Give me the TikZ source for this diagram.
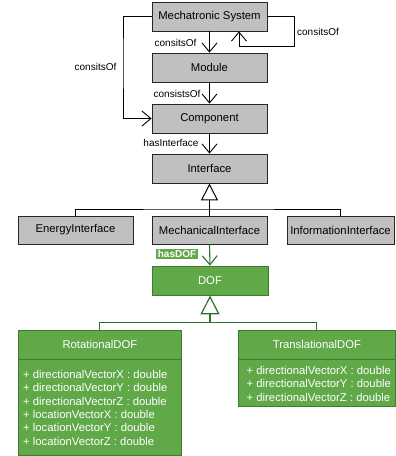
\documentclass[tikz,border=0pt]{standalone}
\usepackage{fontspec}
\setmainfont{Liberation Sans}
\usetikzlibrary{arrows.meta}
\definecolor{boxgray}{RGB}{192,192,192}
\definecolor{gfill}{RGB}{96,168,72}
\definecolor{gline}{RGB}{58,125,48}
\definecolor{gconnc}{RGB}{40,115,45}
\begin{document}
\begin{tikzpicture}[x=1pt,y=-1pt,
  gbox/.style={draw=black!85, fill=boxgray, line width=0.8pt, inner sep=0pt,
    minimum width=115pt, minimum height=29pt, font=\fontsize{11.3}{13}\selectfont},
  grbox/.style={draw=gline, fill=gfill, line width=0.8pt, inner sep=0pt, text=white,
    font=\fontsize{11.3}{13}\selectfont},
  lbl/.style={inner sep=0pt, font=\fontsize{10}{12}\selectfont},
  attr/.style={inner sep=0pt, text=white, align=left, anchor=north west,
    font=\fontsize{11.3}{13.4}\selectfont},
  conn/.style={line width=0.9pt, draw=black, -{Straight Barb[length=9pt,width=15pt,line width=0.9pt]}},
  gconn/.style={line width=1.1pt, draw=gconnc},
  gen/.style={-{Triangle[open,length=17pt,width=17pt,line width=1pt]}},
  ggen/.style={-{Triangle[open,length=19pt,width=19pt,line width=1.2pt]}}
]
\useasboundingbox (0,0) rectangle (396,456);

% grey boxes
\node[gbox] (ms)   at (209.5,16.5)  {Mechatronic System};
\node[gbox] (mod)  at (209.5,67.5)  {Module};
\node[gbox] (comp) at (209.5,118.5) {Component};
\node[gbox] (intf) at (209.5,168.5) {Interface};
\node[gbox, minimum height=28pt] (energy) at (75.5,230) {EnergyInterface};
\node[gbox, minimum height=28pt] (mech)   at (209.5,230) {MechanicalInterface};
\node[gbox, minimum height=28pt, minimum width=107pt] (info) at (340.5,230) {InformationInterface};

% green boxes
\node[grbox, minimum width=116pt, minimum height=29pt] (dof) at (210,280.5) {DOF};
\node[grbox, anchor=north west, minimum width=163pt, minimum height=125pt] (rot) at (18,330) {};
\node[grbox, anchor=north west, minimum width=157pt, minimum height=76pt] (trans) at (238,330) {};
\draw[draw=gline, line width=0.8pt] ([yshift=-29pt]rot.north west) -- ([yshift=-29pt]rot.north east);
\draw[draw=gline, line width=0.8pt] ([yshift=-29pt]trans.north west) -- ([yshift=-29pt]trans.north east);
\node[inner sep=0pt, text=white, font=\fontsize{11.3}{13}\selectfont] (rotH) at ([yshift=-14.5pt]rot.north) {RotationalDOF};
\node[inner sep=0pt, text=white, font=\fontsize{11.3}{13}\selectfont] (transH) at ([yshift=-14.5pt]trans.north) {TranslationalDOF};
\node[attr] (rotA) at ([xshift=5pt,yshift=-40pt]rot.north west)
  {+ directionalVectorX : double\\+ directionalVectorY : double\\+ directionalVectorZ : double\\+ locationVectorX : double\\+ locationVectorY : double\\+ locationVectorZ : double};
\node[attr] (transA) at ([xshift=8.5pt,yshift=-36pt]trans.north west)
  {+ directionalVectorX : double\\+ directionalVectorY : double\\+ directionalVectorZ : double};

% connectors (black)
\draw[conn] (ms.south) -- (mod.north);
\draw[conn] (mod.south) -- (comp.north);
\draw[conn] (comp.south) -- (intf.north);
\coordinate (sl1) at (294,46.5);
\coordinate (sl2) at (239,46.5);
\draw[conn] (ms.east) -| (sl1) -- (sl2) -- (sl2 |- ms.south);
\coordinate (ll) at (123,60);
\draw[conn] (ms.west) -| (ll) |- (comp.west);

% generalization (interfaces)
\coordinate (jI) at (209.5,209);
\draw[line width=0.9pt] (energy.north) |- (jI) -| (info.north);
\draw[line width=0.9pt] (mech.north) -- (jI);
\draw[line width=0.9pt, gen] (jI) -- (intf.south);

% green connectors
\draw[gconn, -{Straight Barb[length=9pt,width=15pt,line width=1.1pt]}] (mech.south) -- (dof.north);
\coordinate (jD) at (210,322.7);
\draw[gconn] (rot.north) |- (jD) -| (trans.north);
\draw[gconn, ggen] (jD) -- (dof.south);

% labels
\node[lbl] (l1) at (175.5,43) {consitsOf};
\node[lbl] (l2) at (318,31.7) {consitsOf};
\node[lbl] (l3) at (95.5,66.7) {consitsOf};
\node[lbl] (l4) at (177,94.3) {consistsOf};
\node[lbl] (l5) at (171,143.3) {hasInterface};
\node[inner sep=0pt, fill=gfill, text=white, minimum width=42pt, minimum height=10.5pt,
  font=\fontsize{10}{12}\selectfont\bfseries] (l6) at (177,254) {hasDOF};
\end{tikzpicture}
\end{document}
